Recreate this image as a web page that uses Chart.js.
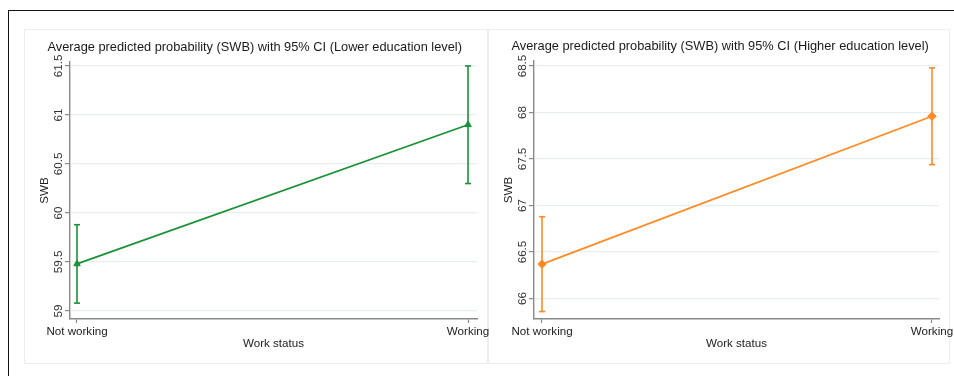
<!DOCTYPE html>
<html>
<head>
<meta charset="utf-8">
<script src="https://cdn.jsdelivr.net/npm/chart.js@4.4.1/dist/chart.umd.min.js"></script>
<style>
  html, body { margin: 0; padding: 0; background: #ffffff; }
  body { width: 954px; height: 376px; position: relative; overflow: hidden; }
  .outer { position: absolute; left: 8px; top: 10px; width: 960px; height: 400px;
           border-top: 1.5px solid #111; border-left: 1.5px solid #111; }
  .panel { position: absolute; top: 29px; height: 335px; border: 1px solid #e8eef1; box-sizing: border-box; background: #fff; }
  canvas { position: absolute; left: 0; top: 0; }
</style>
</head>
<body>
<div class="outer"></div>
<div class="panel" style="left:24px; width:464px;"></div>
<div class="panel" style="left:488px; width:462px;"></div>
<canvas id="c1" width="1000" height="376"></canvas>
<canvas id="c2" width="1000" height="376"></canvas>
<script>
// ---- data ----
const categories = ['Not working', 'Working'];
const lowerMean = [59.48, 60.90];
const lowerLo   = [59.08, 60.30];
const lowerHi   = [59.88, 61.50];
const higherMean = [66.37, 67.96];
const higherLo   = [65.86, 67.44];
const higherHi   = [66.88, 68.48];
const lowerTicks  = [59, 59.5, 60, 60.5, 61, 61.5];
const higherTicks = [66, 66.5, 67, 67.5, 68, 68.5];
const lowerTitle  = 'Average predicted probability (SWB) with 95% CI (Lower education level)';
const higherTitle = 'Average predicted probability (SWB) with 95% CI (Higher education level)';
const xTitle = 'Work status';
const yTitle = 'SWB';

const FONT = "'Liberation Sans', Arial, Helvetica, sans-serif";
const AXIS = '#8a8a8a';
const GRID = '#e6eef1';

const decorPlugin = {
  id: 'decor',
  afterDraw(chart, args, opts) {
    const ctx = chart.ctx;
    const ca = chart.chartArea;
    const ys = chart.scales.y;
    ctx.save();
    ctx.fillStyle = '#1a1a1a';
    ctx.font = '12.8px ' + FONT;
    ctx.textBaseline = 'middle';
    ctx.textAlign = 'left';
    ctx.fillText(opts.title, ca.left - 22.5, ca.top - 14.5);
    ctx.font = '11.6px ' + FONT;
    ctx.fillStyle = '#333';
    ys.ticks.forEach(t => {
      const py = ys.getPixelForValue(t.value);
      ctx.save();
      ctx.translate(ca.left - 8, py);
      ctx.rotate(-Math.PI / 2);
      ctx.textAlign = 'center';
      ctx.textBaseline = 'alphabetic';
      ctx.fillText(String(t.value), 0, 0);
      ctx.restore();
    });
    ctx.restore();
  }
};

function ciDatasets(lo, hi, color) {
  return categories.map((c, i) => ({
    data: [{x: i, y: lo[i]}, {x: i, y: hi[i]}],
    showLine: true,
    borderColor: color,
    borderWidth: 1.6,
    pointStyle: 'line',
    pointRadius: 3,
    pointBorderWidth: 1.6,
    pointBorderColor: color,
    pointHoverRadius: 3,
    clip: false
  }));
}

function makeChart(id, mean, lo, hi, ticks, title, color, marker, markerR, xmin, xmax, ymin, ymax, padL, padR, top, bottom) {
  const yW = 40, xH = 40;
  return new Chart(document.getElementById(id), {
    type: 'scatter',
    data: {
      datasets: [
        ...ciDatasets(lo, hi, color),
        {
          data: categories.map((c, i) => ({x: i, y: mean[i]})),
          showLine: true,
          borderColor: color,
          borderWidth: 1.8,
          pointStyle: marker,
          pointRadius: markerR,
          pointBackgroundColor: color,
          pointBorderColor: color,
          pointBorderWidth: 1,
          clip: false
        }
      ]
    },
    options: {
      responsive: false,
      animation: false,
      events: [],
      layout: { padding: { left: padL - yW, right: 1000 - padR, top: top, bottom: 376 - bottom - xH } },
      plugins: { legend: { display: false }, tooltip: { enabled: false }, title: { display: false },
                 decor: { title: title } },
      scales: {
        x: {
          type: 'linear', min: xmin, max: xmax,
          afterBuildTicks: s => { s.ticks = categories.map((c, i) => ({ value: i })); },
          afterFit: s => { s.height = xH; },
          grid: { drawOnChartArea: false, drawTicks: true, tickLength: 4, tickColor: AXIS, tickWidth: 1.2 },
          border: { display: true, color: AXIS, width: 1.4 },
          ticks: { callback: v => categories[v], padding: 2, color: '#222', maxRotation: 0, minRotation: 0,
                   font: { family: FONT, size: 11.6 } },
          title: { display: true, text: xTitle, color: '#222', font: { family: FONT, size: 11.6 },
                   padding: { top: 0, bottom: 8 } }
        },
        y: {
          type: 'linear', min: ymin, max: ymax,
          afterBuildTicks: s => { s.ticks = ticks.map(v => ({ value: v })); },
          afterFit: s => { s.width = yW; },
          grid: { color: GRID, lineWidth: 1.2, drawTicks: true, tickLength: 5, tickColor: AXIS, tickWidth: 1.2 },
          border: { display: true, color: AXIS, width: 1.4 },
          ticks: { display: false },
          title: { display: true, text: yTitle, color: '#222', font: { family: FONT, size: 11.6 },
                   padding: { top: 7.5, bottom: 0 } }
        }
      }
    },
    plugins: [decorPlugin]
  });
}

makeChart('c1', lowerMean, lowerLo, lowerHi, lowerTicks, lowerTitle, '#1b9138', 'triangle', 3.8,
          -0.0179, 1.023, 58.918, 61.54, 70, 477, 62, 319);
makeChart('c2', higherMean, higherLo, higherHi, higherTicks, higherTitle, '#ff8a24', 'rectRot', 4.2,
          -0.0205, 1.018, 65.78, 68.554, 534, 939, 61, 319);
</script>
</body>
</html>
